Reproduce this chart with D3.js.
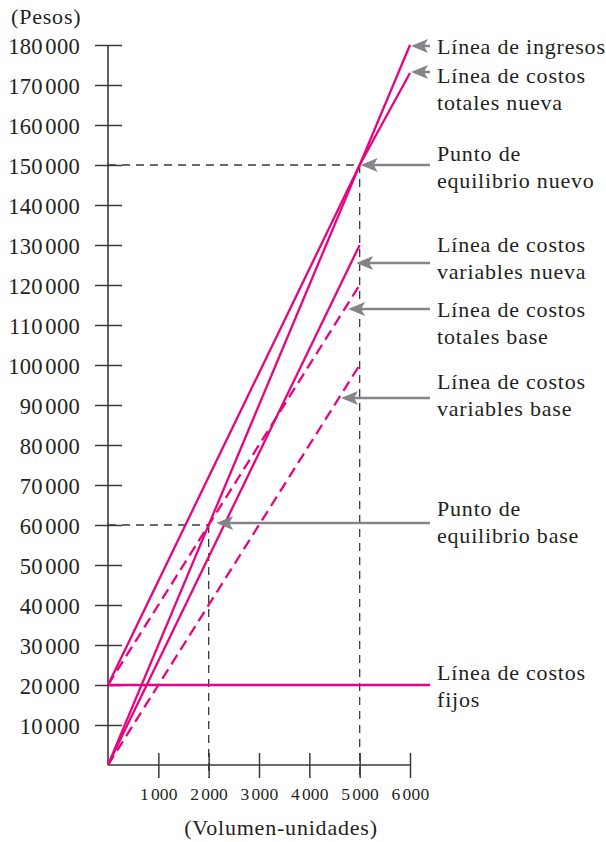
<!DOCTYPE html>
<html>
<head>
<meta charset="utf-8">
<script src="https://cdn.jsdelivr.net/npm/d3@7"></script>
<style>
  html, body { margin: 0; padding: 0; background: #fff; }
  svg { display: block; }
  text { font-family: "Liberation Serif", "Times New Roman", serif; fill: #231f20; }
</style>
</head>
<body>
<svg id="chart" width="606" height="842"></svg>
<script>
// ---- data ----
const yTicks = [10000, 20000, 30000, 40000, 50000, 60000, 70000, 80000, 90000,
                100000, 110000, 120000, 130000, 140000, 150000, 160000, 170000, 180000];
const xTicks = [1000, 2000, 3000, 4000, 5000, 6000];
const yTitle = "(Pesos)";
const xTitle = "(Volumen-unidades)";

// series: [volume, pesos]
const ingresos            = [[0, 0], [6000, 180000]];
const costosTotalesNueva  = [[0, 20000], [5000, 150000], [6000, 173000]];
const costosVariablesNueva= [[0, 0], [5000, 130000]];
const costosTotalesBase   = [[0, 20000], [5000, 120000]];
const costosVariablesBase = [[0, 0], [5000, 100000]];
const costosFijos         = [[0, 20000], [6400, 20000]];

const equilibrioNuevo = [5000, 150000];
const equilibrioBase  = [2000, 60000];

// annotations: text lines and the data point the arrow points to (null = no arrow)
const annotations = [
  { lines: ["Línea de ingresos"], target: [6000, 180000] },
  { lines: ["Línea de costos", "totales nueva"], target: [6000, 173000] },
  { lines: ["Punto de", "equilibrio nuevo"], target: [5000, 150000] },
  { lines: ["Línea de costos", "variables nueva"], target: [4910, 125500] },
  { lines: ["Línea de costos", "totales base"], target: [4750, 114000] },
  { lines: ["Línea de costos", "variables base"], target: [4610, 91750] },
  { lines: ["Punto de", "equilibrio base"], target: [2130, 60500] },
  { lines: ["Línea de costos", "fijos"], target: null }
];

// ---- layout ----
const labelBaselines = [54, 83, 161, 252, 317, 389, 516, 680];
const arrowYs = [46, 72, 165, 263, 309, 398, 523, null];
const lineGap = 26.5;
const labelX = 437, arrowTailX = 430;
const magenta = "#e6057f";
const grey = "#838588";
const ink = "#3a3a3a";

const svg = d3.select("#chart");
const x = d3.scaleLinear().domain([0, 6000]).range([108, 410]);
const y = d3.scaleLinear().domain([0, 180000]).range([765, 45]);

// number with a narrow gap before the thousands group
function splitNumber(sel, gap) {
  sel.each(function(d) {
    const s = String(d);
    const t = d3.select(this).text(null);
    t.append("tspan").text(s.slice(0, -3));
    t.append("tspan").attr("dx", gap).text(s.slice(-3));
  });
}

// y axis
const gy = svg.append("g").attr("transform", `translate(${x(0)},0)`)
  .call(d3.axisLeft(y).tickValues(yTicks).tickSize(0));
gy.select(".domain").remove();
gy.selectAll(".tick line").attr("x1", -13).attr("x2", 14)
  .attr("stroke", ink).attr("stroke-width", 1.5);
gy.selectAll(".tick text").attr("x", -28).attr("dy", "0.36em")
  .style("font-size", "22.5px").style("letter-spacing", "0.3px")
  .style("font-family", "Liberation Serif").attr("fill", "#231f20")
  .call(splitNumber, 2.5);
svg.append("line").attr("x1", x(0)).attr("x2", x(0)).attr("y1", y(180000)).attr("y2", y(0))
  .attr("stroke", ink).attr("stroke-width", 1.6);

// x axis
const gx = svg.append("g").attr("transform", `translate(0,${y(0)})`)
  .call(d3.axisBottom(x).tickValues(xTicks).tickSize(0));
gx.select(".domain").remove();
gx.selectAll(".tick line").attr("y1", -12).attr("y2", 13)
  .attr("stroke", ink).attr("stroke-width", 1.5);
gx.selectAll(".tick text").attr("y", 35).attr("dy", 0)
  .style("font-size", "17.5px").style("letter-spacing", "0.2px")
  .style("font-family", "Liberation Serif").attr("fill", "#231f20")
  .call(splitNumber, 2);
svg.append("line").attr("x1", x(0)).attr("x2", x(6000)).attr("y1", y(0)).attr("y2", y(0))
  .attr("stroke", ink).attr("stroke-width", 1.6);

// titles
svg.append("text").attr("x", 11).attr("y", 24).text(yTitle)
  .style("font-size", "22px").style("letter-spacing", "0.8px");
svg.append("text").attr("x", 281).attr("y", 835).attr("text-anchor", "middle").text(xTitle)
  .style("font-size", "22px").style("letter-spacing", "0.8px");

// break-even reference lines
const refDash = "8,6";
[equilibrioNuevo, equilibrioBase].forEach(p => {
  svg.append("line").attr("x1", x(0)).attr("x2", x(p[0])).attr("y1", y(p[1])).attr("y2", y(p[1]))
    .attr("stroke", ink).attr("stroke-width", 1.3).attr("stroke-dasharray", refDash);
  svg.append("line").attr("x1", x(p[0])).attr("x2", x(p[0])).attr("y1", y(p[1])).attr("y2", y(0) + 13)
    .attr("stroke", ink).attr("stroke-width", 1.3).attr("stroke-dasharray", refDash);
});

// series lines
const line = d3.line().x(d => x(d[0])).y(d => y(d[1]));
const series = [
  { data: costosFijos, dash: null },
  { data: costosVariablesBase, dash: "11,6" },
  { data: costosTotalesBase, dash: "11,6" },
  { data: costosVariablesNueva, dash: null },
  { data: costosTotalesNueva, dash: null },
  { data: ingresos, dash: null }
];
series.forEach(s => {
  svg.append("path").attr("d", line(s.data)).attr("fill", "none")
    .attr("stroke", magenta).attr("stroke-width", 2.3)
    .attr("stroke-dasharray", s.dash);
});

// annotations
annotations.forEach((a, i) => {
  const t = svg.append("text").attr("x", labelX).attr("y", labelBaselines[i])
    .style("font-size", "22px").style("letter-spacing", "0.8px");
  a.lines.forEach((l, j) => {
    t.append("tspan").attr("x", labelX).attr("dy", j === 0 ? 0 : lineGap).text(l);
  });
  if (a.target) {
    const tx = x(a.target[0]) + 1, ay = arrowYs[i];
    svg.append("line").attr("x1", arrowTailX).attr("x2", tx + 10).attr("y1", ay).attr("y2", ay)
      .attr("stroke", grey).attr("stroke-width", 2.6);
    svg.append("path")
      .attr("d", `M${tx},${ay} L${tx + 17},${ay - 7} L${tx + 13},${ay} L${tx + 17},${ay + 7} Z`)
      .attr("fill", grey);
  }
});
</script>
</body>
</html>
